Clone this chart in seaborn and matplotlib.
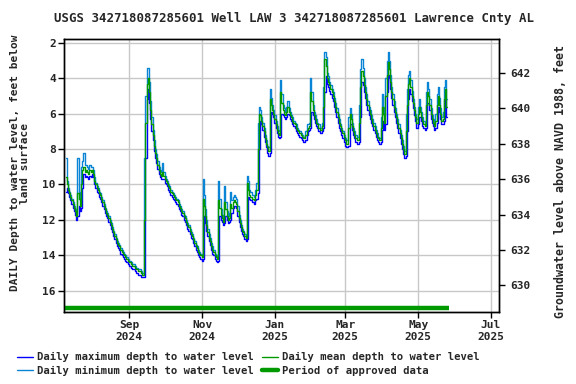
import numpy as np
import pandas as pd
import seaborn as sns
import matplotlib
matplotlib.use('Agg')
import matplotlib.pyplot as plt
import matplotlib.dates as mdates
from matplotlib.lines import Line2D

# Daily values, depth to water level (feet below land surface), first day 2024-07-10
start_date = '2024-07-10'

mean_depth = [
    9.6, 10.0, 10.3, 10.5, 10.7, 10.9, 11.1, 11.3, 11.5, 11.8,
    10.5, 10.8, 11.2, 10.0, 9.2, 9.0, 9.3, 9.2, 9.3, 9.4,
    9.2, 9.3, 9.2, 9.4, 9.8, 10.0, 10.2, 10.3, 10.5, 10.6,
    10.8, 11.0, 11.2, 11.4, 11.6, 11.7, 11.9, 12.1, 12.3, 12.5,
    12.7, 12.9, 13.1, 13.3, 13.4, 13.5, 13.7, 13.8, 13.9, 14.0,
    14.1, 14.2, 14.3, 14.4, 14.4, 14.5, 14.6, 14.6, 14.7, 14.8,
    14.8, 14.9, 14.9, 15.0, 15.1, 15.1, 12.0, 6.5, 4.3, 4.0,
    4.8, 5.8, 6.6, 7.2, 7.8, 8.2, 8.5, 8.9, 9.2, 9.4,
    9.5, 9.3, 9.5, 9.7, 9.8, 9.9, 10.1, 10.2, 10.4, 10.5,
    10.6, 10.7, 10.8, 10.9, 11.0, 11.2, 11.3, 11.5, 11.6, 11.8,
    11.9, 12.1, 12.3, 12.4, 12.6, 12.8, 12.9, 13.1, 13.3, 13.5,
    13.6, 13.8, 13.9, 14.0, 14.1, 10.8, 11.2, 11.8, 12.3, 12.7,
    13.0, 13.2, 13.5, 13.7, 13.8, 14.0, 14.1, 14.2, 10.9, 11.3,
    11.7, 11.9, 12.1, 11.0, 11.4, 11.8, 12.0, 11.9, 11.1, 11.3,
    11.0, 10.9, 11.0, 11.1, 11.5, 11.9, 12.2, 12.4, 12.6, 12.7,
    12.9, 13.0, 9.9, 10.3, 10.6, 10.7, 10.8, 10.8, 10.9, 10.6,
    10.3, 8.0, 6.0, 6.1, 6.4, 6.7, 7.0, 7.4, 7.7, 7.9,
    8.1, 5.2, 5.5, 5.8, 6.0, 6.3, 6.6, 6.9, 7.1, 7.2,
    4.8, 5.4, 5.8, 6.0, 6.1, 5.9, 5.6, 5.9, 6.1, 6.2,
    6.4, 6.5, 6.6, 6.8, 6.9, 7.0, 7.1, 7.2, 7.3, 7.4,
    7.4, 7.2, 6.9, 6.8, 6.7, 4.8, 5.3, 5.8, 6.1, 6.3,
    6.5, 6.6, 6.8, 6.9, 6.9, 6.7, 5.6, 2.9, 3.3, 4.0,
    4.2, 4.4, 4.6, 4.8, 5.0, 5.3, 5.6, 5.9, 6.2, 6.5,
    6.7, 6.9, 7.1, 7.3, 7.5, 7.7, 7.7, 6.8, 6.0, 6.3,
    6.7, 7.0, 7.2, 7.4, 7.5, 7.5, 6.5, 4.5, 3.6, 3.9,
    4.4, 4.8, 5.2, 5.5, 5.8, 6.0, 6.3, 6.5, 6.7, 6.9,
    7.1, 7.3, 7.4, 7.5, 6.8, 5.6, 6.0, 6.5, 5.0, 3.8,
    3.1, 3.5, 4.2, 4.8, 5.2, 5.6, 5.9, 6.2, 6.5, 6.8,
    7.1, 7.4, 7.7, 8.0, 8.3, 7.0, 5.5, 4.3, 4.0, 4.5,
    5.0, 5.4, 5.8, 6.2, 6.5, 6.0, 5.6, 5.9, 6.2, 6.4,
    6.6, 6.7, 5.5, 4.8, 5.0, 5.5, 6.0, 6.3, 6.5, 6.7,
    6.4, 5.5, 5.0, 5.5, 6.0, 6.4, 6.3, 5.2, 4.6, 5.6,
]

min_depth = [
    8.5, 9.8, 10.2, 10.4, 10.6, 10.8, 11.0, 11.2, 11.4, 11.6,
    8.5, 10.4, 10.9, 9.0, 8.7, 8.2, 8.9, 8.9, 9.0, 9.1,
    8.9, 9.0, 9.0, 9.2, 9.6, 9.9, 10.1, 10.2, 10.4, 10.5,
    10.7, 10.9, 11.1, 11.3, 11.5, 11.6, 11.8, 12.0, 12.2, 12.4,
    12.6, 12.8, 13.0, 13.2, 13.3, 13.4, 13.6, 13.7, 13.8, 13.9,
    14.0, 14.1, 14.2, 14.3, 14.3, 14.4, 14.5, 14.5, 14.6, 14.7,
    14.7, 14.8, 14.8, 14.9, 15.0, 15.0, 8.5, 5.0, 3.4, 3.4,
    4.2, 5.3, 6.2, 6.9, 7.5, 8.0, 8.3, 8.7, 9.0, 9.2,
    9.3, 8.8, 9.3, 9.5, 9.7, 9.8, 10.0, 10.1, 10.3, 10.4,
    10.5, 10.6, 10.7, 10.8, 10.9, 11.1, 11.2, 11.4, 11.5, 11.7,
    11.8, 12.0, 12.2, 12.3, 12.5, 12.7, 12.8, 13.0, 13.2, 13.4,
    13.5, 13.7, 13.8, 13.9, 14.0, 9.7, 10.6, 11.4, 12.0, 12.5,
    12.8, 13.0, 13.3, 13.5, 13.7, 13.9, 14.0, 14.1, 9.8, 10.8,
    11.4, 11.7, 11.9, 10.1, 11.0, 11.5, 11.8, 11.6, 10.4, 10.9,
    10.7, 10.6, 10.7, 10.8, 11.2, 11.7, 12.0, 12.3, 12.5, 12.6,
    12.8, 12.9, 9.5, 9.8, 10.3, 10.4, 10.6, 10.6, 10.7, 10.3,
    9.9, 6.5, 5.6, 5.8, 6.2, 6.5, 6.8, 7.2, 7.5, 7.8,
    7.9, 4.6, 5.1, 5.5, 5.8, 6.1, 6.4, 6.7, 6.9, 7.0,
    4.1, 4.9, 5.5, 5.7, 5.9, 5.6, 5.3, 5.7, 5.9, 6.1,
    6.2, 6.4, 6.5, 6.6, 6.8, 6.9, 7.0, 7.1, 7.2, 7.3,
    7.3, 7.0, 6.6, 6.6, 6.5, 4.0, 4.8, 5.5, 5.9, 6.1,
    6.3, 6.5, 6.6, 6.8, 6.8, 6.5, 4.5, 2.5, 2.8, 3.7,
    3.9, 4.2, 4.4, 4.6, 4.8, 5.1, 5.4, 5.7, 6.0, 6.3,
    6.6, 6.8, 7.0, 7.2, 7.4, 7.5, 7.5, 6.2, 5.7, 6.0,
    6.5, 6.8, 7.0, 7.2, 7.3, 7.3, 5.5, 3.5, 2.9, 3.4,
    4.0, 4.5, 4.9, 5.3, 5.6, 5.8, 6.1, 6.3, 6.5, 6.7,
    6.9, 7.1, 7.3, 7.4, 6.2, 4.9, 5.6, 6.1, 4.0, 3.0,
    2.5, 3.0, 3.8, 4.5, 4.9, 5.3, 5.7, 6.0, 6.3, 6.6,
    6.9, 7.2, 7.5, 7.8, 8.1, 6.0, 4.6, 3.8, 3.6, 4.1,
    4.7, 5.2, 5.6, 6.0, 6.3, 5.6, 5.2, 5.6, 5.9, 6.2,
    6.4, 6.5, 4.8, 4.2, 4.6, 5.2, 5.7, 6.1, 6.3, 6.5,
    6.0, 4.9, 4.5, 5.1, 5.7, 6.2, 5.9, 4.5, 4.1, 5.2,
]

max_depth = [
    10.4, 10.2, 10.5, 10.7, 10.9, 11.1, 11.3, 11.5, 11.7, 12.0,
    11.8, 11.2, 11.5, 11.3, 10.2, 9.4, 9.6, 9.5, 9.6, 9.7,
    9.5, 9.6, 9.4, 9.6, 10.0, 10.2, 10.4, 10.5, 10.7, 10.8,
    11.0, 11.2, 11.4, 11.6, 11.8, 11.9, 12.1, 12.3, 12.5, 12.7,
    12.9, 13.1, 13.3, 13.5, 13.6, 13.7, 13.9, 14.0, 14.1, 14.2,
    14.3, 14.4, 14.5, 14.6, 14.6, 14.7, 14.8, 14.8, 14.9, 15.0,
    15.0, 15.1, 15.1, 15.2, 15.2, 15.2, 15.2, 8.5, 5.2, 4.6,
    5.4, 6.3, 7.0, 7.5, 8.1, 8.5, 8.8, 9.1, 9.4, 9.6,
    9.7, 9.7, 9.7, 9.9, 10.0, 10.1, 10.3, 10.4, 10.6, 10.7,
    10.8, 10.9, 11.0, 11.1, 11.2, 11.4, 11.5, 11.7, 11.8, 12.0,
    12.1, 12.3, 12.5, 12.6, 12.8, 13.0, 13.1, 13.3, 13.5, 13.7,
    13.8, 14.0, 14.1, 14.2, 14.3, 14.2, 11.8, 12.2, 12.6, 12.9,
    13.2, 13.4, 13.7, 13.9, 14.0, 14.2, 14.3, 14.4, 14.3, 11.8,
    12.0, 12.1, 12.3, 12.2, 11.8, 12.0, 12.2, 12.1, 12.0, 11.6,
    11.3, 11.2, 11.2, 11.3, 11.8, 12.1, 12.4, 12.6, 12.8, 12.9,
    13.1, 13.2, 13.1, 10.7, 10.8, 10.9, 11.0, 11.0, 11.1, 10.9,
    10.8, 10.5, 8.0, 6.4, 6.6, 6.9, 7.3, 7.6, 7.9, 8.2,
    8.4, 8.2, 5.9, 6.0, 6.2, 6.5, 6.8, 7.1, 7.3, 7.4,
    7.3, 6.0, 6.1, 6.2, 6.3, 6.2, 6.0, 6.1, 6.3, 6.4,
    6.6, 6.7, 6.8, 7.0, 7.1, 7.2, 7.3, 7.4, 7.5, 7.6,
    7.6, 7.5, 7.2, 7.0, 6.9, 6.8, 5.9, 6.1, 6.3, 6.5,
    6.7, 6.8, 7.0, 7.1, 7.1, 7.0, 6.8, 4.8, 3.9, 4.3,
    4.5, 4.7, 4.9, 5.1, 5.3, 5.6, 5.9, 6.2, 6.5, 6.8,
    7.0, 7.2, 7.4, 7.6, 7.8, 7.9, 7.9, 7.8, 6.6, 6.6,
    6.9, 7.2, 7.4, 7.6, 7.7, 7.7, 7.6, 6.2, 4.2, 4.4,
    4.8, 5.1, 5.5, 5.8, 6.1, 6.3, 6.5, 6.7, 6.9, 7.1,
    7.3, 7.5, 7.6, 7.7, 7.6, 6.9, 6.4, 6.9, 6.6, 4.8,
    3.8, 4.0, 4.6, 5.1, 5.5, 5.9, 6.2, 6.5, 6.8, 7.1,
    7.4, 7.7, 8.0, 8.3, 8.5, 8.4, 7.0, 5.2, 4.6, 4.9,
    5.3, 5.7, 6.1, 6.4, 6.8, 6.6, 6.2, 6.2, 6.4, 6.7,
    6.8, 6.9, 6.8, 5.4, 5.4, 5.8, 6.3, 6.5, 6.7, 6.9,
    6.8, 6.5, 5.6, 5.9, 6.3, 6.6, 6.6, 6.4, 5.2, 6.2,
]

approved_start = '2024-07-08'
approved_end = '2025-05-27'
approved_depth = [17.0, 17.0]

# land surface elevation offset (NAVD 1988) used by the right axis
land_surface = 645.7

x_ticks = ['2024-09-01', '2024-11-01', '2025-01-01', '2025-03-01', '2025-05-01', '2025-07-01']
elev_ticks = [630, 632, 634, 636, 638, 640, 642]
depth_ticks = [2, 4, 6, 8, 10, 12, 14, 16]

dates = pd.date_range(start_date, periods=len(mean_depth), freq='D')
df = pd.DataFrame({'date': dates, 'max': max_depth, 'min': min_depth, 'mean': mean_depth})

sns.set_theme(style='white')
plt.rcParams['font.family'] = ['DejaVu Sans Mono']
plt.rcParams['font.weight'] = 'bold'

c_max = '#0000ff'
c_min = '#0a84d4'
c_mean = '#009900'

fig = plt.figure(figsize=(5.76, 3.84), dpi=100)
ax = fig.add_axes([0.1116, 0.1875, 0.7552, 0.7102])

sns.lineplot(data=df, x='date', y='max', ax=ax, color=c_max, lw=1, drawstyle='steps-mid', zorder=3)
sns.lineplot(data=df, x='date', y='min', ax=ax, color=c_min, lw=1, drawstyle='steps-mid', zorder=4)
sns.lineplot(data=df, x='date', y='mean', ax=ax, color=c_mean, lw=1, drawstyle='steps-mid', zorder=5)
ax.plot(pd.to_datetime([approved_start, approved_end]), approved_depth,
        color=c_mean, lw=3.2, solid_capstyle='butt', zorder=5, clip_on=False)

ax.set_xlim(pd.Timestamp('2024-07-08 12:00'), pd.Timestamp('2025-07-08'))
ax.set_ylim(17.2, 1.8)
ax.set_yticks(depth_ticks)
ax.set_xticks(pd.to_datetime(x_ticks))
ax.xaxis.set_major_formatter(mdates.DateFormatter('%b\n%Y'))
ax.grid(True, color='#c8c8c8', lw=1)
ax.set_axisbelow(True)
ax.set_xlabel('')
ax.set_ylabel('')
ax.tick_params(axis='both', which='major', direction='out', length=4, width=1,
               labelsize=8, pad=2, left=True, bottom=True, color='black')
for lbl in ax.get_xticklabels() + ax.get_yticklabels():
    lbl.set_fontweight('bold')
for s in ax.spines.values():
    s.set_color('black')
    s.set_linewidth(1)

ax2 = ax.twinx()
ax2.set_ylim(land_surface - 17.2, land_surface - 1.8)
ax2.set_yticks(elev_ticks)
ax2.tick_params(axis='y', direction='out', length=4, width=1, labelsize=8, pad=4, right=True, color='black')
for lbl in ax2.get_yticklabels():
    lbl.set_fontweight('bold')
ax2.set_ylabel('')
ax2.grid(False)
for s in ax2.spines.values():
    s.set_color('black')
    s.set_linewidth(1)

fig.text(20 / 576, 1 - 163 / 384, 'DAILY Depth to water level, feet below\nland surface',
         rotation=90, ha='center', va='center', multialignment='center',
         fontsize=8, fontweight='bold', linespacing=1.0)
fig.text(560 / 576, 1 - 181 / 384, 'Groundwater level above NAVD 1988, feet',
         rotation=90, ha='center', va='center', fontsize=8.4, fontweight='bold')

fig.suptitle('USGS 342718087285601 Well LAW 3 342718087285601 Lawrence Cnty AL',
             fontsize=8.9, fontweight='bold', x=0.511, y=0.968)

handles = [
    Line2D([], [], color=c_max, lw=1),
    Line2D([], [], color=c_min, lw=1),
    Line2D([], [], color=c_mean, lw=1),
    Line2D([], [], color=c_mean, lw=3.2),
]
labels = ['Daily maximum depth to water level', 'Daily minimum depth to water level',
          'Daily mean depth to water level', 'Period of approved data']
fig.legend(handles, labels, ncol=2, loc='lower center', bbox_to_anchor=(0.431, -0.004),
           frameon=False, prop={'size': 7.6, 'weight': 'bold'}, handlelength=1.5,
           handletextpad=0.4, columnspacing=0.75, labelspacing=0.35)

fig.savefig('out.png', dpi=100)
